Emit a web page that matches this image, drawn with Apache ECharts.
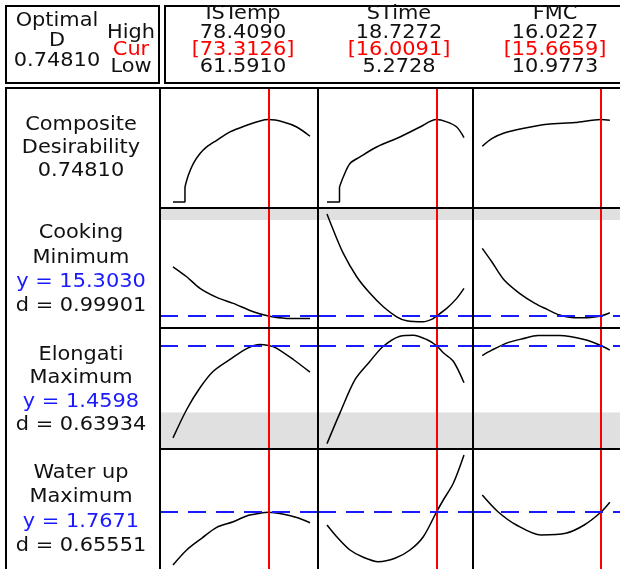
<!DOCTYPE html>
<html>
<head>
<meta charset="utf-8">
<script src="https://cdn.jsdelivr.net/npm/echarts@6/dist/echarts.min.js"></script>
<style>
  html, body { margin: 0; padding: 0; background: #fff; }
  #chart { width: 620px; height: 569px; }
</style>
</head>
<body>
<div id="chart"></div>
<script>
// ---- Optimization settings ----
const factorNames = ['ISTemp', 'STime', 'FMC'];
const factorHigh = [78.4090, 18.7272, 16.0227];
const factorLow  = [61.5910, 5.2728, 10.9773];
const factorCur  = [73.3126, 16.0091, 15.6659];

const compositeD = 0.74810;
const responseNames = ['Cooking', 'Elongati', 'Water up'];
const responseGoals = ['Minimum', 'Maximum', 'Maximum'];
const responseY = [15.3030, 1.4598, 1.7671];
const responseD = [0.99901, 0.63934, 0.65551];

// Bounds where desirability falls to zero (shaded)
const cookingUpper = 20;
const elongLower = 1.0;

// ---- Composite desirability traces (factor value, d) ----
const compStepISTemp = [[61.591, 0], [63.06, 0], [63.06, 0.136]];
const compISTemp = [[63.06, 0.136], [63.47, 0.242], [64.08, 0.349], [64.91, 0.44], [65.73, 0.50],
  [66.96, 0.56], [68.59, 0.636], [70.64, 0.697], [72.27, 0.736], [73.3126, 0.748],
  [75.13, 0.727], [76.78, 0.681], [78.409, 0.597]];
const compStepSTime = [[5.2728, 0], [6.50, 0], [6.50, 0.136]];
const compSTime = [[6.50, 0.136], [6.87, 0.227], [7.53, 0.349], [8.51, 0.409], [10.15, 0.499],
  [12.44, 0.590], [14.41, 0.681], [16.0091, 0.748], [17.03, 0.727], [18.01, 0.681], [18.7272, 0.585]];
const compFMC = [[10.9773, 0.506], [11.354, 0.576], [11.844, 0.627], [12.575, 0.667],
  [13.547, 0.706], [14.644, 0.721], [15.6659, 0.748], [16.0227, 0.742]];

// ---- Cooking ----
const cookISTemp = [[61.591, 17.715], [63.27, 17.226], [64.905, 16.658], [66.955, 16.218],
  [68.993, 15.924], [71.45, 15.513], [73.3126, 15.303], [75.55, 15.19], [78.409, 15.18]];
const cookSTime = [[5.2728, 20.293], [5.891, 19.51], [6.874, 18.37], [8.19, 17.226], [9.496, 16.414],
  [10.802, 15.758], [12.118, 15.269], [13.1, 15.073], [14.73, 15.024], [15.55, 15.142],
  [16.0091, 15.303], [17.03, 15.68], [18.01, 16.169], [18.7272, 16.658]];
const cookFMC = [[10.9773, 18.615], [11.354, 17.96], [11.844, 17.064], [12.451, 16.414],
  [13.061, 15.924], [13.547, 15.631], [14.037, 15.352], [14.644, 15.22], [15.255, 15.239],
  [15.6659, 15.303], [16.0227, 15.464]];

// ---- Elongation ----
const elongISTemp = [[61.591, 0.826], [63.273, 1.021], [64.906, 1.17], [66.538, 1.283],
  [68.588, 1.364], [70.638, 1.439], [72.27, 1.467], [73.3126, 1.4598], [74.22, 1.444],
  [76.36, 1.364], [78.409, 1.277]];
const elongSTime = [[5.2728, 0.787], [6.549, 0.998], [8.023, 1.226], [9.496, 1.352], [10.802, 1.455],
  [12.442, 1.524], [13.748, 1.531], [15.064, 1.501], [16.0091, 1.4598], [16.694, 1.41],
  [17.676, 1.352], [18.7272, 1.204]];
const elongFMC = [[10.9773, 1.391], [11.354, 1.428], [11.964, 1.478], [12.575, 1.506],
  [13.182, 1.528], [14.037, 1.528], [15.01, 1.501], [15.6659, 1.4598], [16.0227, 1.428]];

// ---- Water uptake ----
const waterISTemp = [[61.591, 1.24], [63.273, 1.39], [65.114, 1.507], [66.955, 1.617],
  [68.993, 1.673], [70.638, 1.73], [72.27, 1.757], [73.3126, 1.7671], [75.03, 1.75],
  [76.68, 1.717], [78.409, 1.663]];
const waterSTime = [[5.2728, 1.64], [6.225, 1.523], [7.532, 1.39], [8.838, 1.317], [10.311, 1.273],
  [11.951, 1.307], [13.424, 1.39], [14.73, 1.523], [16.0091, 1.7671], [16.694, 1.89],
  [17.676, 2.057], [18.7272, 2.34]];
const waterFMC = [[10.9773, 1.94], [11.599, 1.773], [12.33, 1.64], [13.306, 1.54],
  [14.279, 1.557], [15.01, 1.64], [15.6659, 1.7671], [16.0227, 1.867]];

const rowCurves = [
  [compISTemp, compSTime, compFMC],
  [cookISTemp, cookSTime, cookFMC],
  [elongISTemp, elongSTime, elongFMC],
  [waterISTemp, waterSTime, waterFMC]
];
const compSteps = [compStepISTemp, compStepSTime, null];

// ---- Layout (pixels) ----
const cellL = [160, 318, 473], cellR = [318, 473, 632];
const traceL = [173, 327, 483], traceR = [310, 464, 621];
const rowT = [88, 208, 328, 449], rowB = [208, 328, 449, 569];
const rowRange = [[-0.055, 1.035], [14.72, 20.59], [0.75, 1.58], [1.2, 2.4]];

const FONT = 'DejaVu Sans';
const FS = 19;
const SX = 1.1;
const BLUE = '#1a1aff';
const RED = '#ff0000';

const grids = [], xAxes = [], yAxes = [], series = [];
for (let r = 0; r < 4; r++) {
  for (let c = 0; c < 3; c++) {
    const idx = grids.length;
    grids.push({ left: cellL[c], top: rowT[r], width: cellR[c] - cellL[c], height: rowB[r] - rowT[r] });
    const span = factorHigh[c] - factorLow[c];
    const tw = traceR[c] - traceL[c];
    xAxes.push({
      gridIndex: idx, type: 'value', show: false,
      min: factorLow[c] - (traceL[c] - cellL[c]) / tw * span,
      max: factorHigh[c] + (cellR[c] - traceR[c]) / tw * span
    });
    yAxes.push({ gridIndex: idx, type: 'value', show: false, min: rowRange[r][0], max: rowRange[r][1] });

    const mlData = [{ xAxis: factorCur[c], lineStyle: { color: RED, width: 2, type: 'solid' } }];
    if (r > 0) {
      mlData.push({ yAxis: responseY[r - 1], lineStyle: { color: BLUE, width: 2, type: [18, 10] } });
    }
    let maData = [];
    if (r === 1) maData = [[{ yAxis: cookingUpper }, { yAxis: rowRange[1][1] }]];
    if (r === 2) maData = [[{ yAxis: rowRange[2][0] }, { yAxis: elongLower }]];

    series.push({
      type: 'line', xAxisIndex: idx, yAxisIndex: idx,
      data: rowCurves[r][c], showSymbol: false, symbol: 'none', smooth: 0.3,
      lineStyle: { color: '#000', width: 1.5 }, silent: true,
      markLine: { silent: true, symbol: ['none', 'none'], label: { show: false }, data: mlData },
      markArea: { silent: true, itemStyle: { color: '#e0e0e0' }, data: maData }
    });
    if (r === 0 && compSteps[c]) {
      series.push({
        type: 'line', xAxisIndex: idx, yAxisIndex: idx, data: compSteps[c],
        showSymbol: false, symbol: 'none', lineStyle: { color: '#000', width: 1.5 }, silent: true
      });
    }
  }
}

// ---- Frames and text ----
const graphics = [];
function box(x, y, w, h) {
  graphics.push({ type: 'rect', z: 100, shape: { x, y, width: w, height: h },
    style: { fill: 'none', stroke: '#000', lineWidth: 2 } });
}
function hline(x1, x2, y) {
  graphics.push({ type: 'line', z: 100, shape: { x1, y1: y, x2, y2: y }, style: { stroke: '#000', lineWidth: 2 } });
}
function vline(x, y1, y2) {
  graphics.push({ type: 'line', z: 100, shape: { x1: x, y1, x2: x, y2 }, style: { stroke: '#000', lineWidth: 2 } });
}
function label(text, x, y, color) {
  graphics.push({ type: 'text', z: 110, x, y, scaleX: SX,
    style: { text, fontFamily: FONT, fontSize: FS, fill: color || '#111',
      align: 'center', verticalAlign: 'middle', textAlign: 'center', textVerticalAlign: 'middle' } });
}

box(6, 6, 153, 77);
box(165, 6, 480, 77);
box(6, 88, 154, 500);
hline(160, 640, 88);
vline(318, 88, 580);
vline(473, 88, 580);
hline(160, 640, 208);
hline(160, 640, 328);
hline(160, 640, 449);

// header, left box
label('Optimal', 57, 21);
label('D', 57, 41);
label(compositeD.toFixed(5), 57, 61);
label('High', 131, 33);
label('Cur', 131, 50, RED);
label('Low', 131, 67);

// header, factor settings
const headX = [243, 399, 555];
for (let c = 0; c < 3; c++) {
  label(factorNames[c], headX[c], 14);
  label(factorHigh[c].toFixed(4), headX[c], 33);
  label('[' + factorCur[c].toFixed(4) + ']', headX[c], 50, RED);
  label(factorLow[c].toFixed(4), headX[c], 67);
}

// row labels
const labX = 81;
label('Composite', labX, 125);
label('Desirability', labX, 148);
label(compositeD.toFixed(5), labX, 171);
const rowLabY = [[233, 258, 282, 306], [355, 378, 402, 425], [473, 497, 522, 546]];
for (let i = 0; i < 3; i++) {
  const ys = rowLabY[i];
  label(responseNames[i], labX, ys[0]);
  label(responseGoals[i], labX, ys[1]);
  label('y = ' + responseY[i].toFixed(4), labX, ys[2], BLUE);
  label('d = ' + responseD[i].toFixed(5), labX, ys[3]);
}

const chart = echarts.init(document.getElementById('chart'), null, { renderer: 'canvas' });
chart.setOption({
  animation: false,
  backgroundColor: '#fff',
  grid: grids, xAxis: xAxes, yAxis: yAxes,
  series: series,
  graphic: graphics
});
</script>
</body>
</html>
